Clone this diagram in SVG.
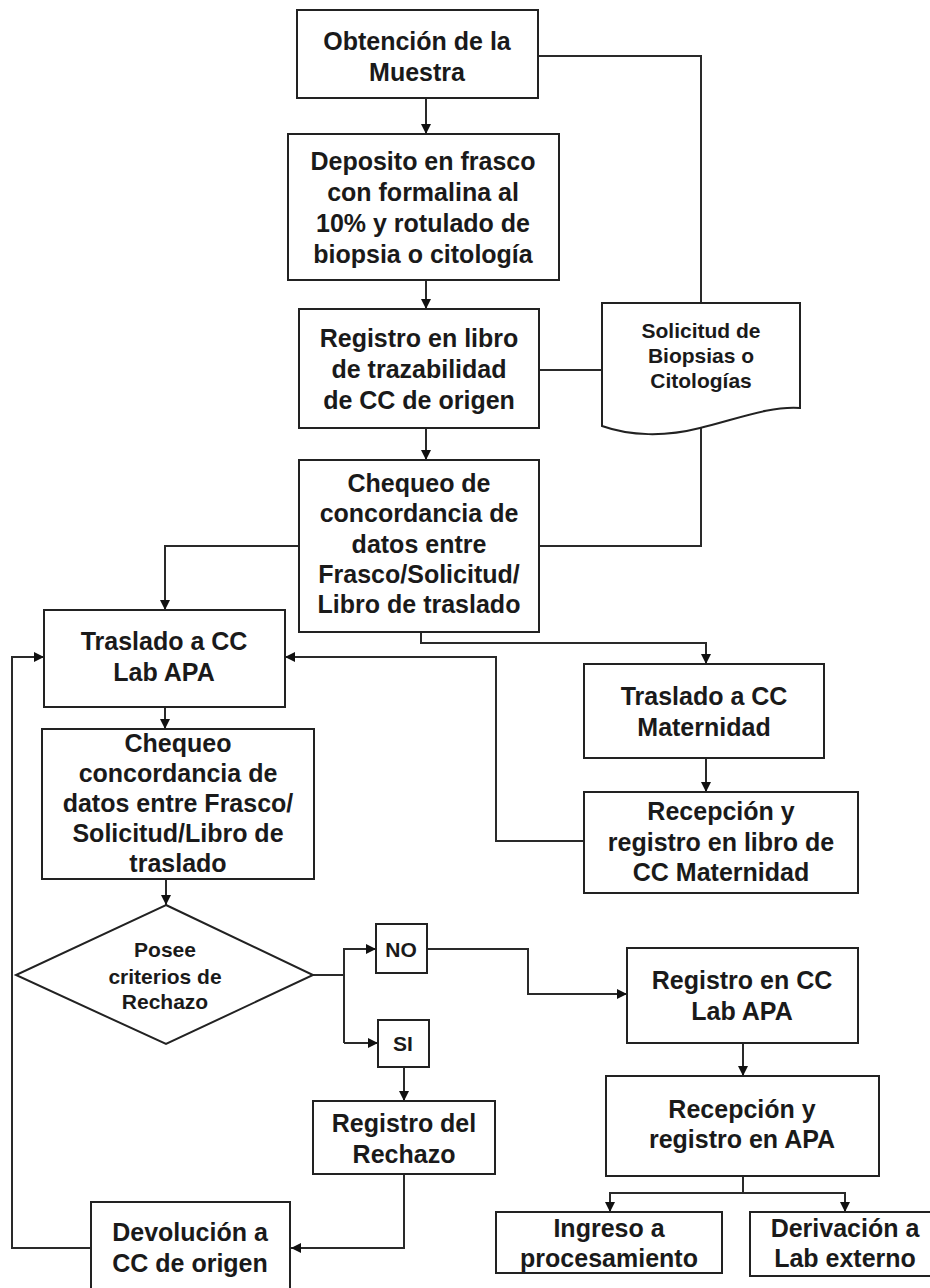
<svg xmlns="http://www.w3.org/2000/svg" width="930" height="1288" viewBox="0 0 930 1288">
<style>
.b{fill:#fff;stroke:#222;stroke-width:2}
.t{font-family:"Liberation Sans",Arial,sans-serif;font-weight:bold;font-size:25px;fill:#1a1a1a;text-anchor:middle}
.s{font-family:"Liberation Sans",Arial,sans-serif;font-weight:bold;font-size:21px;fill:#1a1a1a;text-anchor:middle}
.c{fill:none;stroke:#2a2a2a;stroke-width:2}
</style>
<defs>
<marker id="a" viewBox="0 0 10 10" refX="10" refY="5" markerWidth="5" markerHeight="5" orient="auto" markerUnits="strokeWidth">
<path d="M0,0 L10,5 L0,10 Z" fill="#111"/>
</marker>
</defs>
<rect width="930" height="1288" fill="#fff"/>
<g id="connectors">
<path class="c" d="M538,56 H701 V303"/>
<path class="c" d="M539,370 H602"/>
<path class="c" d="M539,546 H701 V428"/>
<path class="c" d="M426,98 V134" marker-end="url(#a)"/>
<path class="c" d="M426,280 V309" marker-end="url(#a)"/>
<path class="c" d="M426,428 V460" marker-end="url(#a)"/>
<path class="c" d="M299,546 H165 V610" marker-end="url(#a)"/>
<path class="c" d="M421,632 V643 H706 V664" marker-end="url(#a)" stroke="#555"/>
<path class="c" d="M706,758 V792" marker-end="url(#a)"/>
<path class="c" d="M584,841 H496 V657 H285" marker-end="url(#a)" stroke="#555"/>
<path class="c" d="M165,707 V729" marker-end="url(#a)"/>
<path class="c" d="M166,879 V905" marker-end="url(#a)"/>
<path class="c" d="M313,975 H344"/>
<path class="c" d="M344,1043 V949 H376" marker-end="url(#a)"/>
<path class="c" d="M344,1043 H378" marker-end="url(#a)"/>
<path class="c" d="M404,1067 V1101" marker-end="url(#a)"/>
<path class="c" d="M404,1174 V1248 H291" marker-end="url(#a)" stroke="#555"/>
<path class="c" d="M91,1248 H12 V657 H44" marker-end="url(#a)"/>
<path class="c" d="M427,949 H528 V994 H627" marker-end="url(#a)"/>
<path class="c" d="M743,1043 V1076" marker-end="url(#a)"/>
<path class="c" d="M743,1176 V1193"/>
<path class="c" d="M743,1193 H610 V1212" marker-end="url(#a)"/>
<path class="c" d="M743,1193 H845 V1212" marker-end="url(#a)"/>
</g>
<g id="n1"><rect class="b" x="297" y="10" width="241" height="88"/>
<text class="t" x="417" y="50">Obtención de la</text><text class="t" x="417" y="81">Muestra</text></g>
<g id="n2"><rect class="b" x="288" y="134" width="271" height="146"/>
<text class="t" x="423" y="170">Deposito en frasco</text><text class="t" x="423" y="201">con formalina al</text><text class="t" x="423" y="232">10% y rotulado de</text><text class="t" x="423" y="263">biopsia o citología</text></g>
<g id="n3"><rect class="b" x="299" y="309" width="240" height="119"/>
<text class="t" x="419" y="347">Registro en libro</text><text class="t" x="419" y="378">de trazabilidad</text><text class="t" x="419" y="409">de CC de origen</text></g>
<g id="doc"><path class="b" d="M602,303 H800 V408 C770,406 740,418 700,428 C665,437 630,436 602,426 Z"/>
<text class="s" x="701" y="338">Solicitud de</text><text class="s" x="701" y="363">Biopsias o</text><text class="s" x="701" y="388">Citologías</text></g>
<g id="n4"><rect class="b" x="299" y="460" width="240" height="172"/>
<text class="t" x="419" y="492">Chequeo de</text><text class="t" x="419" y="522">concordancia de</text><text class="t" x="419" y="553">datos entre</text><text class="t" x="419" y="583">Frasco/Solicitud/</text><text class="t" x="419" y="613">Libro de traslado</text></g>
<g id="n5"><rect class="b" x="44" y="610" width="241" height="97"/>
<text class="t" x="164" y="650">Traslado a CC</text><text class="t" x="164" y="681">Lab APA</text></g>
<g id="n6"><rect class="b" x="584" y="664" width="240" height="94"/>
<text class="t" x="704" y="705">Traslado a CC</text><text class="t" x="704" y="736">Maternidad</text></g>
<g id="n7"><rect class="b" x="584" y="792" width="274" height="101"/>
<text class="t" x="721" y="820">Recepción y</text><text class="t" x="721" y="851">registro en libro de</text><text class="t" x="721" y="881">CC Maternidad</text></g>
<g id="n8"><rect class="b" x="42" y="729" width="272" height="150"/>
<text class="t" x="178" y="752">Chequeo</text><text class="t" x="178" y="782">concordancia de</text><text class="t" x="178" y="812">datos entre Frasco/</text><text class="t" x="178" y="842">Solicitud/Libro de</text><text class="t" x="178" y="872">traslado</text></g>
<g id="n9"><path class="b" d="M166,905 L313,975 L166,1044 L16,975 Z"/>
<text class="s" x="165" y="957">Posee</text><text class="s" x="165" y="984">criterios de</text><text class="s" x="165" y="1009">Rechazo</text></g>
<g id="no"><rect class="b" x="376" y="924" width="51" height="49"/><text class="s" x="401" y="957">NO</text></g>
<g id="si"><rect class="b" x="378" y="1020" width="51" height="47"/><text class="s" x="403" y="1051">SI</text></g>
<g id="n10"><rect class="b" x="313" y="1101" width="182" height="73"/>
<text class="t" x="404" y="1132">Registro del</text><text class="t" x="404" y="1163">Rechazo</text></g>
<g id="n11"><rect class="b" x="91" y="1202" width="199" height="100"/>
<text class="t" x="190" y="1241">Devolución a</text><text class="t" x="190" y="1272">CC de origen</text></g>
<g id="n12"><rect class="b" x="627" y="948" width="231" height="95"/>
<text class="t" x="742" y="989">Registro en CC</text><text class="t" x="742" y="1020">Lab APA</text></g>
<g id="n13"><rect class="b" x="606" y="1076" width="273" height="100"/>
<text class="t" x="742" y="1118">Recepción y</text><text class="t" x="742" y="1148">registro en APA</text></g>
<g id="n14"><rect class="b" x="496" y="1212" width="226" height="61"/>
<text class="t" x="609" y="1237">Ingreso a</text><text class="t" x="609" y="1267">procesamiento</text></g>
<g id="n15"><rect class="b" x="750" y="1212" width="190" height="64"/>
<text class="t" x="845" y="1237">Derivación a</text><text class="t" x="845" y="1267">Lab externo</text></g>
</svg>
